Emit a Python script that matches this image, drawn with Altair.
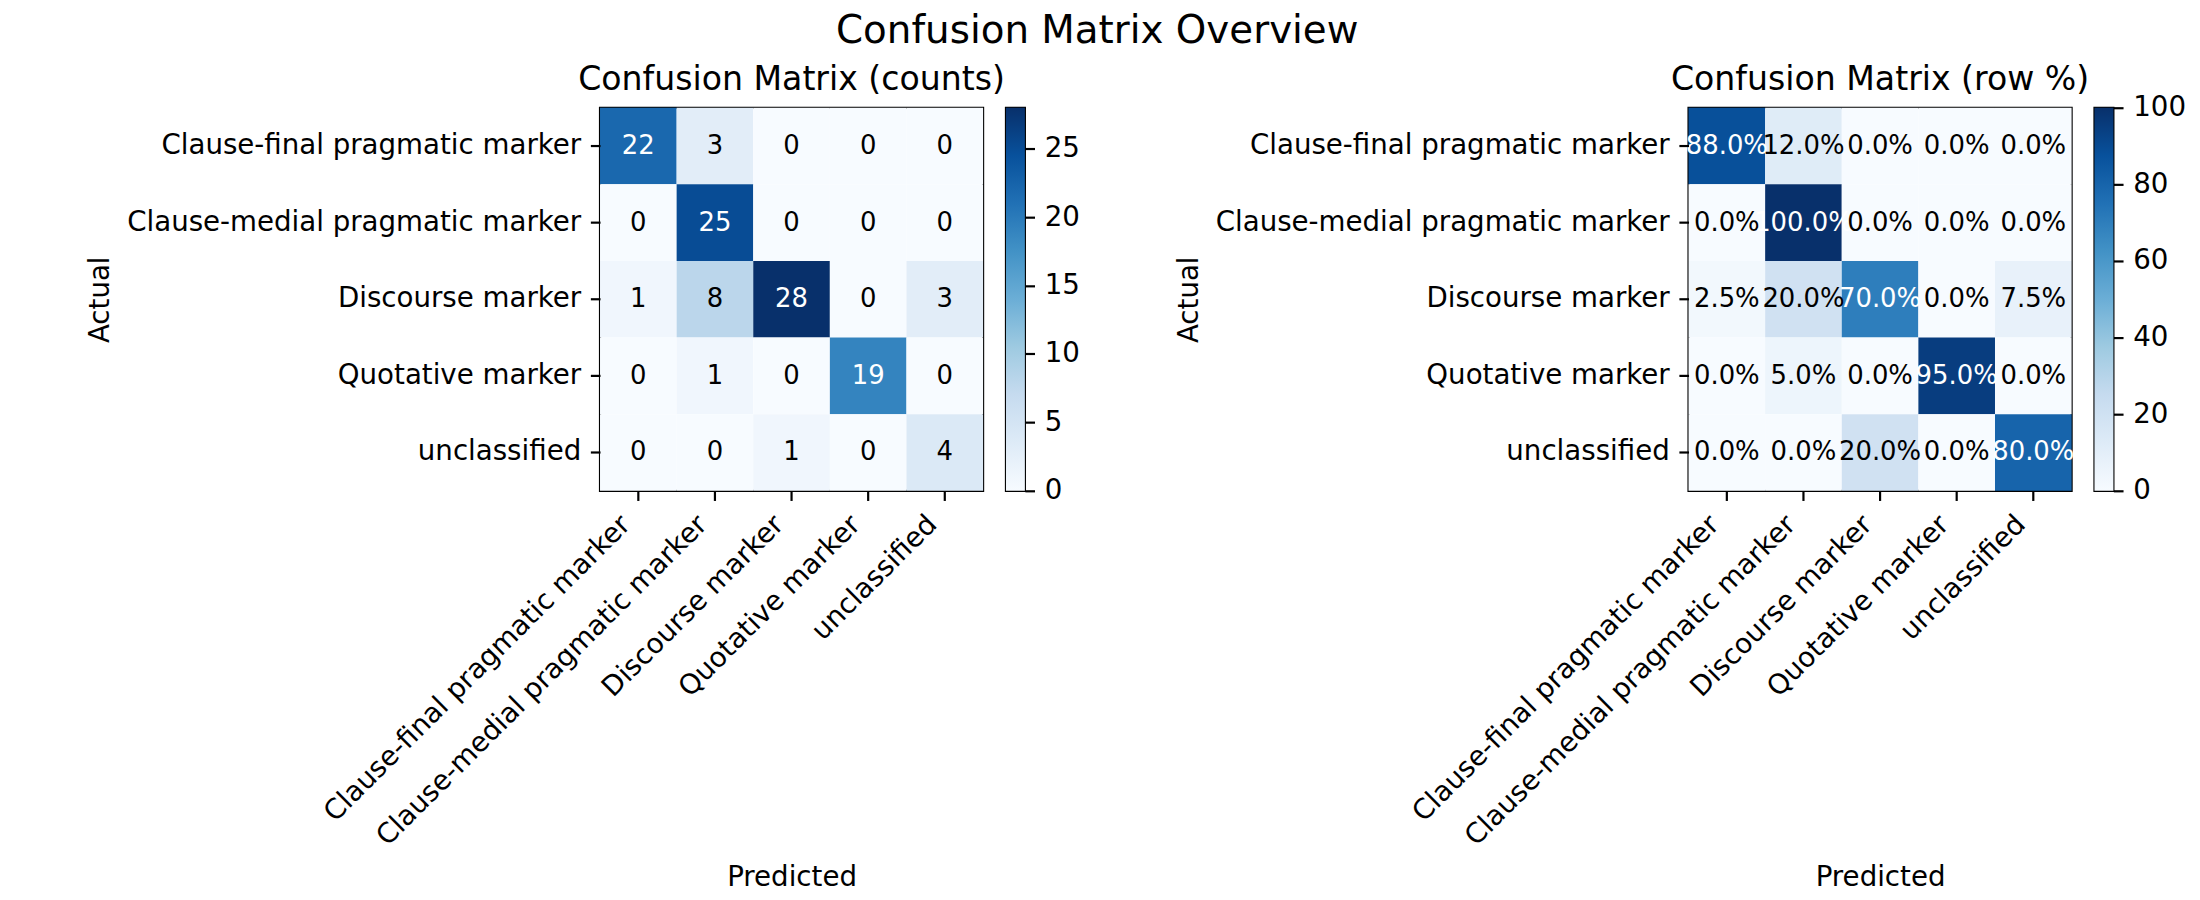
import altair as alt
import pandas as pd

labels = ["Clause-final pragmatic marker", "Clause-medial pragmatic marker",
          "Discourse marker", "Quotative marker", "unclassified"]
counts = [[22, 3, 0, 0, 0],
          [0, 25, 0, 0, 0],
          [1, 8, 28, 0, 3],
          [0, 1, 0, 19, 0],
          [0, 0, 1, 0, 4]]
row_pct = [[88.0, 12.0, 0.0, 0.0, 0.0],
           [0.0, 100.0, 0.0, 0.0, 0.0],
           [2.5, 20.0, 70.0, 0.0, 7.5],
           [0.0, 5.0, 0.0, 95.0, 0.0],
           [0.0, 0.0, 20.0, 0.0, 80.0]]
counts_ticks = [0, 5, 10, 15, 20, 25]
pct_ticks = [0, 20, 40, 60, 80, 100]
counts_max = 28
pct_max = 100
blues = ['#f7fbff', '#deebf7', '#c6dbef', '#9ecae1', '#6baed6',
         '#4292c6', '#2171b5', '#08519c', '#08306b']

FONT = "DejaVu Sans"
TICKF = 27.8
ANNF = 26
SIDE = 385
LW = 2.2
TL = 9.7
CBW = 19
GAP = 23
SPACER = 621


def long_df(mat, fmt):
    rows = []
    for i, a in enumerate(labels):
        for j, p in enumerate(labels):
            v = mat[i][j]
            rows.append({"actual": a, "predicted": p, "value": v, "label": fmt(v)})
    return pd.DataFrame(rows)


def heatmap(df, vmax, title):
    thresh = vmax / 2
    dom = [vmax * k / (len(blues) - 1) for k in range(len(blues))]
    cscale = alt.Scale(domain=dom, range=blues, interpolate='rgb')
    x = alt.X('predicted:N', sort=labels, title='Predicted',
              scale=alt.Scale(paddingInner=0, paddingOuter=0),
              axis=alt.Axis(labelAngle=315, labelAlign='right', labelBaseline='top',
                            labelOffset=-22, labelPadding=TL, labelLimit=1000,
                            tickSize=TL, bandPosition=0.5,
                            titleX=SIDE / 2, titleY=397, titleBaseline='alphabetic',
                            titleAlign='center'))
    y = alt.Y('actual:N', sort=labels, title='Actual',
              scale=alt.Scale(paddingInner=0, paddingOuter=0),
              axis=alt.Axis(labelPadding=TL, labelLimit=1000, tickSize=TL,
                            bandPosition=0.5, labelAlign='right', labelBaseline='middle',
                            titleX=-494, titleY=SIDE / 2, titleBaseline='alphabetic',
                            titleAlign='center', titleAngle=270))
    base = alt.Chart(df)
    rects = base.mark_rect().encode(
        x=x, y=y,
        color=alt.Color('value:Q', scale=cscale, legend=None))
    texts = base.mark_text(font=FONT, fontSize=ANNF).encode(
        x=x, y=y, text='label:N',
        color=alt.when(alt.datum.value > thresh).then(alt.value('white')).otherwise(alt.value('black')))
    return alt.layer(rects, texts).properties(
        width=SIDE, height=SIDE,
        title=alt.TitleParams(title, font=FONT, fontSize=33.3, fontWeight='normal',
                              anchor='middle', frame='group', baseline='alphabetic',
                              offset=-15, color='black'),
        view=alt.ViewBackground(stroke='black', strokeWidth=LW))


def colorbar(vmax, ticks):
    df = pd.DataFrame({"lo": [0], "hi": [vmax]})
    stops = [alt.GradientStop(color=c, offset=k / (len(blues) - 1)) for k, c in enumerate(blues)]
    grad = alt.Gradient(gradient='linear', stops=stops, x1=0, x2=0, y1=1, y2=0)
    return alt.Chart(df).mark_rect(color=grad).encode(
        y=alt.Y('lo:Q', scale=alt.Scale(domain=[0, vmax], nice=False, zero=True),
                axis=alt.Axis(orient='right', values=ticks, title=None, tickSize=TL,
                              labelPadding=TL, labelFlush=False, labelOverlap=False,
                              labelBaseline='middle')),
        y2='hi:Q'
    ).properties(width=CBW, height=SIDE,
                 view=alt.ViewBackground(stroke='black', strokeWidth=LW))


spacer = alt.Chart(pd.DataFrame({"s": [0]})).mark_point(opacity=0).encode(
    x=alt.X('s:Q', axis=None), y=alt.Y('s:Q', axis=None)
).properties(width=SPACER, height=SIDE)

df_counts = long_df(counts, lambda v: f"{v:d}")
df_pct = long_df(row_pct, lambda v: f"{v:.1f}%")

h1 = heatmap(df_counts, counts_max, "Confusion Matrix (counts)")
cb1 = colorbar(counts_max, counts_ticks)
h2 = heatmap(df_pct, pct_max, "Confusion Matrix (row %)")
cb2 = colorbar(pct_max, pct_ticks)

chart = alt.hconcat(h1, cb1, spacer, h2, cb2, spacing=GAP, bounds='flush').resolve_scale(
    color='independent', x='independent', y='independent'
).properties(
    title=alt.TitleParams("Confusion Matrix Overview", font=FONT, fontSize=39,
                          fontWeight='normal', anchor='middle', baseline='alphabetic',
                          offset=-20, dx=-39, color='black'),
    padding={"left": 77, "top": 1, "right": 5, "bottom": 0},
    background='white'
).configure_view(stroke=None).configure_axis(
    labelFont=FONT, titleFont=FONT, labelFontSize=TICKF, titleFontSize=TICKF,
    labelColor='black', titleColor='black', titleFontWeight='normal',
    tickColor='black', tickWidth=LW, domain=False, grid=False
)

chart.save("out.html", embed_options={"renderer": "svg", "actions": False})
